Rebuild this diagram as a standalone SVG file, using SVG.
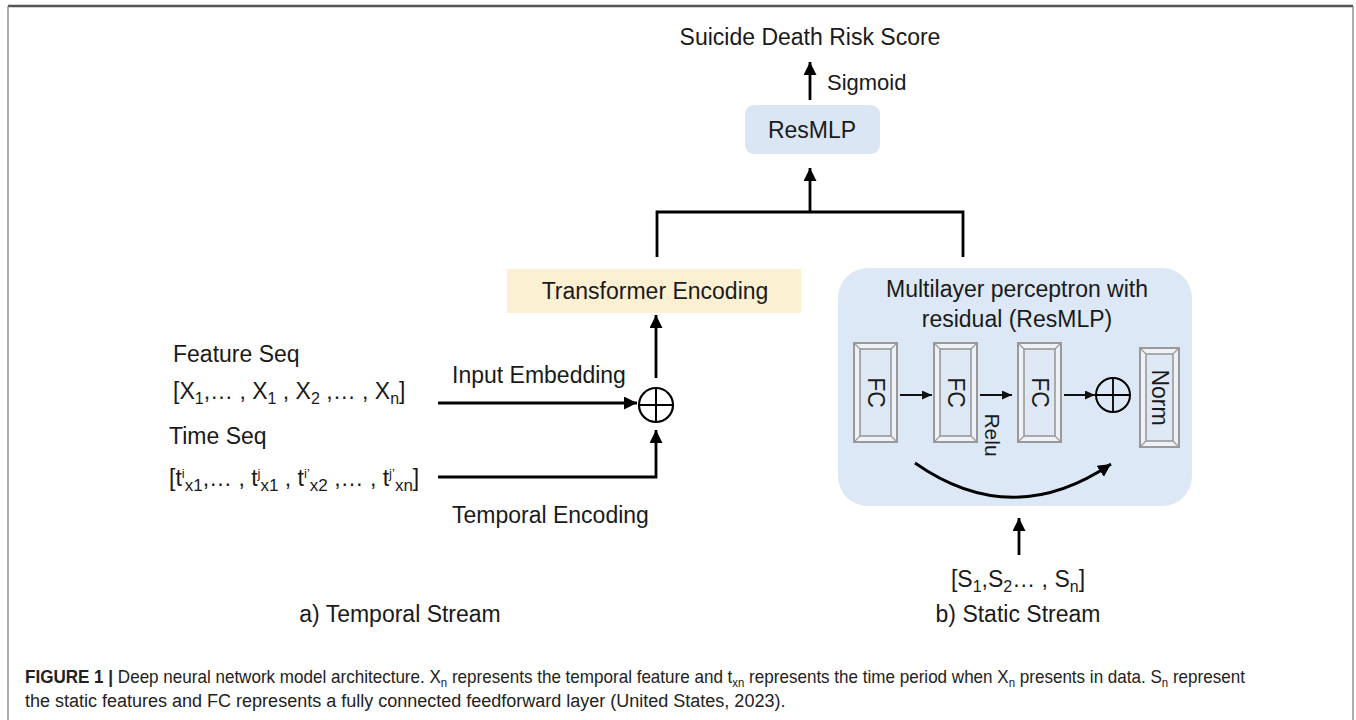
<svg xmlns="http://www.w3.org/2000/svg" width="1356" height="720" viewBox="0 0 1356 720">
<style>
text{font-family:"Liberation Sans",Arial,sans-serif;fill:#1a1a1a}
.t23{font-size:23px}
.sub{font-size:16px}
.conn{stroke:#000;stroke-width:2.8;fill:none}
.thin{stroke:#111;stroke-width:2;fill:none}
.frame{stroke:#999;stroke-width:2;fill:#eef2f8}
.inner{stroke:#999;stroke-width:1.6;fill:#dfe9f5}
.bev{stroke:#999;stroke-width:1.2}
.cap{font-size:18px;fill:#222}
</style>
<defs>
<marker id="ah" markerUnits="userSpaceOnUse" markerWidth="14" markerHeight="14" refX="13" refY="6.5" orient="auto">
<path d="M0,0 L13,6.5 L0,13 Z" fill="#000"/>
</marker>
<marker id="ahs" markerUnits="userSpaceOnUse" markerWidth="12" markerHeight="10" refX="10" refY="4.5" orient="auto">
<path d="M0,0 L10,4.5 L0,9 Z" fill="#111"/>
</marker>
</defs>
<rect width="1356" height="720" fill="#fff"/>
<!-- frame -->
<line x1="8" y1="6" x2="1353" y2="6" stroke="#555" stroke-width="2.5"/>
<line x1="8" y1="6" x2="8" y2="720" stroke="#777" stroke-width="1.2"/>
<line x1="1353" y1="6" x2="1353" y2="720" stroke="#777" stroke-width="1.2"/>

<g id="output">
<text class="t23" x="810" y="45" text-anchor="middle">Suicide Death Risk Score</text>
<text x="827" y="90" font-size="22">Sigmoid</text>
</g>

<g id="resmlp-top">
<rect x="745" y="105" width="135" height="49" rx="9" fill="#dae6f3"/>
<text class="t23" x="812" y="138" text-anchor="middle">ResMLP</text>
</g>

<g id="transformer">
<rect x="507" y="269" width="294" height="44" fill="#fcf0d3"/>
<text class="t23" x="655" y="299" text-anchor="middle">Transformer Encoding</text>
</g>

<g id="sum1">
<circle cx="656" cy="405" r="17" fill="none" stroke="#000" stroke-width="2.2"/>
<line x1="639" y1="405" x2="673" y2="405" stroke="#000" stroke-width="2"/>
<line x1="656" y1="388" x2="656" y2="422" stroke="#000" stroke-width="2"/>
</g>

<g id="inputs">
<text class="t23" x="173" y="362">Feature Seq</text>
<text class="t23" x="173" y="399">[X<tspan class="sub" dy="5">1</tspan><tspan dy="-5">,… , X</tspan><tspan class="sub" dy="5">1</tspan><tspan dy="-5"> , X</tspan><tspan class="sub" dy="5">2</tspan><tspan dy="-5"> ,… , X</tspan><tspan class="sub" dy="5">n</tspan><tspan dy="-5">]</tspan></text>
<text class="t23" x="169" y="444">Time Seq</text>
<text class="t23" x="169" y="486">[t<tspan font-size="13" dy="-8">i</tspan><tspan font-size="17" dy="13">x1</tspan><tspan dy="-5">,… , t</tspan><tspan font-size="13" dy="-8">j</tspan><tspan font-size="17" dy="13">x1</tspan><tspan dy="-5"> , t</tspan><tspan font-size="13" dy="-8">i’</tspan><tspan font-size="17" dy="13">x2</tspan><tspan dy="-5"> ,… , t</tspan><tspan font-size="13" dy="-8">j’</tspan><tspan font-size="17" dy="13">xn</tspan><tspan dy="-5">]</tspan></text>
<text class="t23" x="452" y="383">Input Embedding</text>
<text class="t23" x="452" y="523">Temporal Encoding</text>
</g>

<g id="static-block">
<rect x="838" y="268" width="354" height="238" rx="30" fill="#dce8f5"/>
<text class="t23" x="1017" y="297" text-anchor="middle">Multilayer perceptron with</text>
<text class="t23" x="1017" y="327" text-anchor="middle">residual (ResMLP)</text>
</g>

<g id="fc1">
<rect class="frame" x="854" y="343" width="43" height="99"/>
<rect class="inner" x="860" y="349" width="31" height="87"/>
<path class="bev" d="M854,343 L860,349 M897,343 L891,349 M854,442 L860,436 M897,442 L891,436"/>
<text class="t23" transform="translate(875.5,392.5) rotate(90)" text-anchor="middle" dominant-baseline="central">FC</text>
</g>
<g id="fc2">
<rect class="frame" x="934" y="343" width="43" height="99"/>
<rect class="inner" x="940" y="349" width="31" height="87"/>
<path class="bev" d="M934,343 L940,349 M977,343 L971,349 M934,442 L940,436 M977,442 L971,436"/>
<text class="t23" transform="translate(955.5,392.5) rotate(90)" text-anchor="middle" dominant-baseline="central">FC</text>
</g>
<g id="fc3">
<rect class="frame" x="1018" y="343" width="43" height="99"/>
<rect class="inner" x="1024" y="349" width="31" height="87"/>
<path class="bev" d="M1018,343 L1024,349 M1061,343 L1055,349 M1018,442 L1024,436 M1061,442 L1055,436"/>
<text class="t23" transform="translate(1039.5,392.5) rotate(90)" text-anchor="middle" dominant-baseline="central">FC</text>
</g>
<g id="norm">
<rect class="frame" x="1140" y="348" width="39" height="99"/>
<rect class="inner" x="1146" y="354" width="27" height="87"/>
<path class="bev" d="M1140,348 L1146,354 M1179,348 L1173,354 M1140,447 L1146,441 M1179,447 L1173,441"/>
<text class="t23" transform="translate(1159.5,397.5) rotate(90)" text-anchor="middle" dominant-baseline="central">Norm</text>
</g>
<g id="sum2">
<circle cx="1113" cy="395" r="17" fill="none" stroke="#000" stroke-width="2"/>
<line x1="1096" y1="395" x2="1130" y2="395" stroke="#000" stroke-width="1.8"/>
<line x1="1113" y1="378" x2="1113" y2="412" stroke="#000" stroke-width="1.8"/>
</g>
<g id="relu-label">
<text font-size="21" transform="translate(992,435) rotate(90)" text-anchor="middle" dominant-baseline="central">Relu</text>
</g>

<g id="static-input">
<text class="t23" x="1018" y="587" text-anchor="middle">[S<tspan class="sub" dy="5">1</tspan><tspan dy="-5">,S</tspan><tspan class="sub" dy="5">2</tspan><tspan dy="-5">… , S</tspan><tspan class="sub" dy="5">n</tspan><tspan dy="-5">]</tspan></text>
</g>

<g id="labels">
<text class="t23" x="400" y="622" text-anchor="middle">a) Temporal Stream</text>
<text class="t23" x="1018" y="622" text-anchor="middle">b) Static Stream</text>
</g>

<g id="connectors">
<line class="conn" x1="810" y1="100" x2="810" y2="62" marker-end="url(#ah)"/>
<line class="conn" x1="810" y1="212" x2="810" y2="168" marker-end="url(#ah)"/>
<path class="conn" d="M657,257 V212 H963 V257"/>
<line class="conn" x1="656" y1="378" x2="656" y2="315" marker-end="url(#ah)"/>
<line class="conn" x1="438" y1="403" x2="637" y2="403" marker-end="url(#ah)"/>
<path class="conn" d="M438,477 H656 V430" marker-end="url(#ah)"/>
<line class="conn" x1="1019" y1="555" x2="1019" y2="518" marker-end="url(#ah)"/>
<line class="thin" x1="900" y1="395" x2="932" y2="395" marker-end="url(#ahs)"/>
<line class="thin" x1="980" y1="395" x2="1012" y2="395" marker-end="url(#ahs)"/>
<line class="thin" x1="1064" y1="395" x2="1095" y2="395" marker-end="url(#ahs)"/>
<path class="conn" stroke-width="2.5" d="M915,463 Q1012,531 1111,464" marker-end="url(#ah)"/>
</g>

<g id="caption">
<text class="cap" transform="translate(25,683) scale(0.948,1)" x="0" y="0"><tspan font-weight="bold">FIGURE 1 | </tspan>Deep neural network model architecture. X<tspan font-size="12" dy="4">n</tspan><tspan dy="-4"> represents the temporal feature and t</tspan><tspan font-size="12" dy="4">xn</tspan><tspan dy="-4"> represents the time period when X</tspan><tspan font-size="12" dy="4">n</tspan><tspan dy="-4"> presents in data. S</tspan><tspan font-size="12" dy="4">n</tspan><tspan dy="-4"> represent</tspan></text>
<text class="cap" x="25" y="707">the static features and FC represents a fully connected feedforward layer (United States, 2023).</text>
</g>
</svg>
